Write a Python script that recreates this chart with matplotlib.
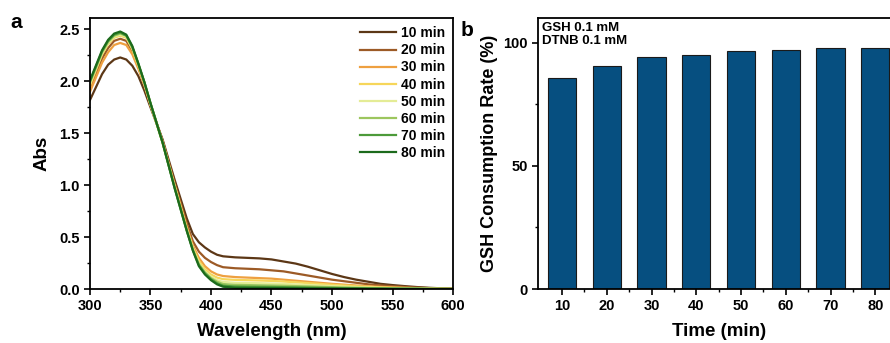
import numpy as np
import matplotlib.pyplot as plt
from matplotlib.ticker import MultipleLocator

plt.rcParams['font.family'] = ['Liberation Sans', 'DejaVu Sans']
plt.rcParams['font.weight'] = 'bold'

# ---- panel a: UV-vis spectra ----
wavelength = [300, 310, 315, 320, 325, 330, 335, 340, 345, 350, 360, 370, 380, 385, 390, 395, 400, 405, 410,
              420, 430, 440, 450, 460, 470, 480, 490, 500, 510, 520, 530, 540, 550, 560, 570, 580, 590, 600]

abs_10 = [1.82, 2.07, 2.16, 2.21, 2.23, 2.21, 2.15, 2.05, 1.91, 1.75, 1.44, 1.05, 0.68, 0.53, 0.45, 0.40, 0.36, 0.33, 0.315,
          0.305, 0.30, 0.295, 0.285, 0.265, 0.245, 0.215, 0.18, 0.145, 0.115, 0.09, 0.07, 0.05, 0.038, 0.028, 0.019, 0.012, 0.007, 0.004]
abs_20 = [1.93, 2.22, 2.32, 2.39, 2.41, 2.39, 2.29, 2.14, 1.97, 1.78, 1.43, 1.02, 0.63, 0.46, 0.36, 0.30, 0.26, 0.23, 0.21,
          0.20, 0.195, 0.19, 0.18, 0.17, 0.15, 0.13, 0.11, 0.09, 0.075, 0.06, 0.045, 0.035, 0.027, 0.02, 0.014, 0.009, 0.005, 0.003]
abs_30 = [1.90, 2.18, 2.28, 2.35, 2.37, 2.35, 2.26, 2.12, 1.96, 1.77, 1.42, 1.00, 0.60, 0.42, 0.30, 0.22, 0.17, 0.14, 0.125,
          0.115, 0.11, 0.105, 0.10, 0.09, 0.08, 0.07, 0.06, 0.05, 0.042, 0.034, 0.027, 0.021, 0.016, 0.012, 0.008, 0.005, 0.003, 0.002]
abs_40 = [1.96, 2.26, 2.36, 2.42, 2.44, 2.42, 2.31, 2.15, 1.98, 1.78, 1.41, 0.99, 0.58, 0.40, 0.27, 0.19, 0.14, 0.11, 0.095,
          0.088, 0.085, 0.082, 0.078, 0.072, 0.065, 0.057, 0.049, 0.041, 0.034, 0.027, 0.021, 0.016, 0.012, 0.009, 0.006, 0.004, 0.002, 0.001]
abs_50 = [1.98, 2.27, 2.37, 2.43, 2.45, 2.43, 2.32, 2.16, 1.98, 1.78, 1.41, 0.98, 0.57, 0.39, 0.25, 0.17, 0.12, 0.085, 0.068,
          0.06, 0.058, 0.056, 0.053, 0.049, 0.044, 0.039, 0.033, 0.028, 0.023, 0.018, 0.014, 0.011, 0.008, 0.006, 0.004, 0.003, 0.002, 0.001]
abs_60 = [1.99, 2.28, 2.38, 2.44, 2.46, 2.44, 2.33, 2.16, 1.99, 1.79, 1.41, 0.98, 0.57, 0.38, 0.24, 0.16, 0.105, 0.07, 0.048,
          0.04, 0.038, 0.036, 0.034, 0.031, 0.028, 0.025, 0.021, 0.018, 0.015, 0.012, 0.009, 0.007, 0.005, 0.004, 0.003, 0.002, 0.001, 0.001]
abs_70 = [2.00, 2.29, 2.39, 2.45, 2.47, 2.44, 2.33, 2.17, 1.99, 1.79, 1.41, 0.97, 0.56, 0.375, 0.23, 0.15, 0.095, 0.055, 0.032,
          0.024, 0.022, 0.021, 0.02, 0.018, 0.016, 0.014, 0.012, 0.01, 0.008, 0.007, 0.005, 0.004, 0.003, 0.002, 0.002, 0.001, 0.001, 0.0]
abs_80 = [2.01, 2.30, 2.40, 2.46, 2.48, 2.45, 2.34, 2.17, 1.99, 1.79, 1.41, 0.97, 0.56, 0.37, 0.22, 0.14, 0.085, 0.045, 0.022,
          0.012, 0.011, 0.01, 0.009, 0.008, 0.007, 0.006, 0.005, 0.004, 0.003, 0.003, 0.002, 0.002, 0.001, 0.001, 0.001, 0.0, 0.0, 0.0]

spectra = [abs_10, abs_20, abs_30, abs_40, abs_50, abs_60, abs_70, abs_80]
spectra_labels = ['10 min', '20 min', '30 min', '40 min', '50 min', '60 min', '70 min', '80 min']
spectra_colors = ['#5c3716', '#9c5a26', '#eea040', '#f6d65a', '#e4ec96', '#9cc65e', '#4c9a3a', '#1c6a1c']

# ---- panel b: GSH consumption ----
times = [10, 20, 30, 40, 50, 60, 70, 80]
consumption = [85.8, 90.5, 94.2, 95.0, 96.5, 97.2, 97.8, 98.0]

fig = plt.figure(figsize=(8.9, 3.43), dpi=100)

ax1 = fig.add_axes([0.1011, 0.1574, 0.4079, 0.7901])
for y, lab, col in zip(spectra, spectra_labels, spectra_colors):
    ax1.plot(wavelength, y, color=col, lw=1.6, label=lab)
ax1.set_xlim(300, 600)
ax1.set_ylim(0, 2.61)
ax1.xaxis.set_major_locator(MultipleLocator(50))
ax1.xaxis.set_minor_locator(MultipleLocator(25))
ax1.yaxis.set_major_locator(MultipleLocator(0.5))
ax1.yaxis.set_minor_locator(MultipleLocator(0.25))
ax1.set_xlabel('Wavelength (nm)', fontsize=13.5, fontweight='bold', labelpad=7)
ax1.set_ylabel('Abs', fontsize=13.5, fontweight='bold', labelpad=6)
leg = ax1.legend(loc='upper right', frameon=False, fontsize=10, handlelength=2.6,
                 labelspacing=0.22, handletextpad=0.3, borderaxespad=0.2)

ax2 = fig.add_axes([0.6045, 0.1574, 0.406, 0.7901])
ax2.bar(times, consumption, width=6.3, color='#064f80', edgecolor='#1a1a1a', linewidth=0.8)
ax2.set_xlim(4.64, 85.36)
ax2.set_ylim(0, 110)
ax2.set_xticks(times)
ax2.set_xticks([15, 25, 35, 45, 55, 65, 75], minor=True)
ax2.yaxis.set_major_locator(MultipleLocator(50))
ax2.yaxis.set_minor_locator(MultipleLocator(25))
ax2.set_xlabel('Time (min)', fontsize=13.5, fontweight='bold', labelpad=7)
ax2.set_ylabel('GSH Consumption Rate (%)', fontsize=13, fontweight='bold', labelpad=4)
ax2.text(0.012, 0.985, 'GSH 0.1 mM\nDTNB 0.1 mM', transform=ax2.transAxes, ha='left', va='top',
         fontsize=9.5, fontweight='bold', linespacing=1.15)

for ax in (ax1, ax2):
    for s in ax.spines.values():
        s.set_linewidth(1.3)
    ax.tick_params(which='major', direction='out', length=4, width=1.2, labelsize=10.5)
    ax.tick_params(which='minor', direction='out', length=2.5, width=1.0)
    for lab in ax.get_xticklabels() + ax.get_yticklabels():
        lab.set_fontweight('bold')

fig.text(0.012, 0.935, 'a', fontsize=15, fontweight='bold', ha='left', va='center')
fig.text(0.517, 0.91, 'b', fontsize=15, fontweight='bold', ha='left', va='center')

fig.savefig('out.png', dpi=100)
